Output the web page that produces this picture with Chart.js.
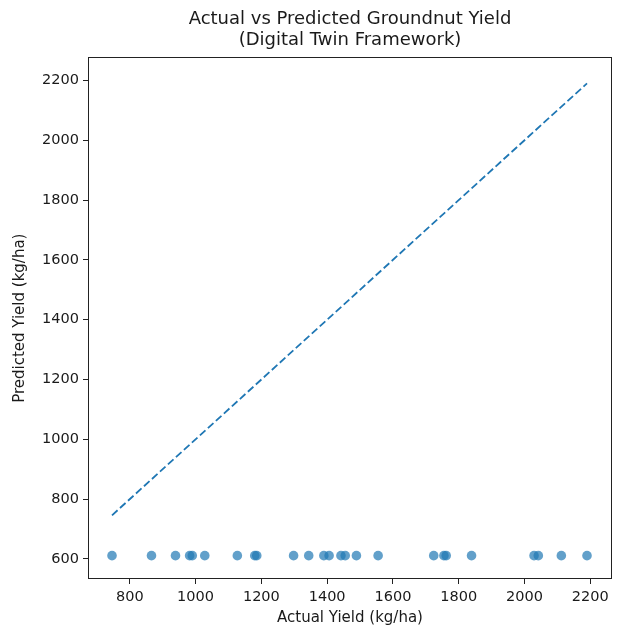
<!doctype html>
<html lang="en">
<head>
<meta charset="UTF-8" />
<title>Actual vs Predicted Groundnut Yield</title>
<style>
  html, body { margin: 0; padding: 0; background: #ffffff; }
  #wrap { width: 623px; height: 631px; position: relative; }
</style>
</head>
<body>
<div id="wrap"><canvas id="chart"></canvas></div>

<script src="https://cdn.jsdelivr.net/npm/chart.js"></script>
<script>
// values
const actualYield = [746, 866, 939, 982, 990, 1028, 1127, 1180, 1186, 1298, 1344, 1390, 1406,
  1442, 1455, 1489, 1555, 1724, 1755, 1762, 1839, 2029, 2042, 2112, 2190]
const predictedYield = [611, 611, 611, 611, 611, 611, 611, 611, 611, 611, 611, 611, 611,
  611, 611, 611, 611, 611, 611, 611, 611, 611, 611, 611, 611]
const refLineX = [746, 2190]   // y = x reference line, endpoints
const refLineY = [746, 2190]
const xTicks = [800, 1000, 1200, 1400, 1600, 1800, 2000, 2200]
const yTicks = [600, 800, 1000, 1200, 1400, 1600, 1800, 2000, 2200]

const BLUE = '#1f77b4'
const INK = '#1a1a1a'
const FONT = 'DejaVu Sans'

const points = actualYield.map((a, i) => ({x: a, y: predictedYield[i]}))
const line = refLineX.map((a, i) => ({x: a, y: refLineY[i]}))

// matplotlib style box round the plot area
const frame = {
  id: 'frame',
  afterDraw(chart) {
    const {ctx, chartArea: a} = chart
    ctx.save()
    ctx.strokeStyle = '#222'
    ctx.lineWidth = 1
    ctx.strokeRect(Math.round(a.left) + 0.5, Math.round(a.top) + 0.5,
      Math.round(a.right - a.left) - 1, Math.round(a.bottom - a.top) - 1)
    ctx.restore()
  }
}

const tickFont = {family: FONT, size: 14.5}
const labelFont = {family: FONT, size: 15}
const plain = v => String(v)

new Chart(document.getElementById('chart'), {
  type: 'scatter',
  data: {
    datasets: [
      {
        label: 'Predicted',
        data: points,
        backgroundColor: 'rgba(31,119,180,0.7)',
        borderWidth: 0,
        pointRadius: 4.8,
        pointHoverRadius: 4.8
      },
      {
        type: 'line',
        label: 'Ideal',
        data: line,
        borderColor: BLUE,
        borderWidth: 1.8,
        borderDash: [7.5, 3.3],
        pointRadius: 0,
        fill: false
      }
    ]
  },
  options: {
    responsive: true,
    maintainAspectRatio: false,
    animation: false,
    layout: { padding: {left: 0, right: 11, top: 0, bottom: 0} },
    plugins: {
      legend: { display: false },
      tooltip: { enabled: false },
      title: {
        display: true,
        fullSize: false,
        text: ['Actual vs Predicted Groundnut Yield', '(Digital Twin Framework)'],
        color: INK,
        font: {family: FONT, size: 18, weight: 'normal', lineHeight: 1.15},
        padding: {top: 9, bottom: 7}
      }
    },
    scales: {
      x: {
        type: 'linear',
        min: 673,
        max: 2266,
        afterFit: s => { s.height = 52 },
        afterBuildTicks: s => { s.ticks = xTicks.map(v => ({value: v})) },
        ticks: { color: INK, font: tickFont, padding: 5, maxRotation: 0, callback: plain },
        grid: { drawOnChartArea: false, drawTicks: true, tickLength: 5, tickColor: '#222' },
        border: { display: false },
        title: {
          display: true,
          text: 'Actual Yield (kg/ha)',
          color: INK,
          font: labelFont,
          padding: {top: 0, bottom: 4}
        }
      },
      y: {
        type: 'linear',
        min: 533,
        max: 2277,
        afterFit: s => { s.width = 88 },
        afterBuildTicks: s => { s.ticks = yTicks.map(v => ({value: v})) },
        ticks: { color: INK, font: tickFont, padding: 4, callback: plain },
        grid: { drawOnChartArea: false, drawTicks: true, tickLength: 5, tickColor: '#222' },
        border: { display: false },
        title: {
          display: true,
          text: 'Predicted Yield (kg/ha)',
          color: INK,
          font: labelFont,
          padding: {top: 11, bottom: 0}
        }
      }
    }
  },
  plugins: [frame]
})
</script>
</body>
</html>
